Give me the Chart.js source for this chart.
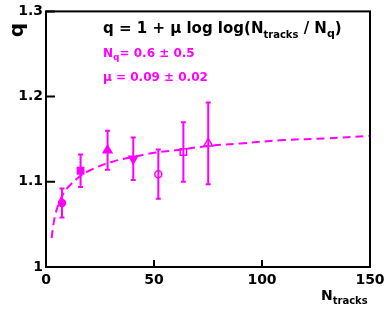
<!DOCTYPE html>
<html>
<head>
<meta charset="utf-8">
<script src="https://cdn.jsdelivr.net/npm/chart.js@4"></script>
<style>
  html, body { margin: 0; padding: 0; background: #fff; }
  #wrap { width: 390px; height: 310px; }
</style>
</head>
<body>
<div id="wrap"><canvas id="c" width="390" height="310"></canvas></div>
<script>
// measured points
const nTracks = [7.4, 16, 28.5, 40.4, 52, 63.6, 75.1];
const qValues = [1.075, 1.113, 1.137, 1.127, 1.109, 1.135, 1.145];
const qErrors = [0.017, 0.019, 0.023, 0.025, 0.029, 0.035, 0.048];

// fitted curve
const fitN = [2.6, 4, 6, 8, 10, 15, 20, 30, 40, 50, 60, 75, 90, 110, 130, 150];
const fitQ = [1.034, 1.058, 1.075, 1.086, 1.093, 1.105, 1.113, 1.123, 1.129, 1.134, 1.137, 1.142, 1.145, 1.149, 1.151, 1.154];

const xTicks = [0, 50, 100, 150];
const yTicks = [1, 1.1, 1.2, 1.3];

const MAG = '#ff00ff';
const FONT = '"DejaVu Sans", sans-serif';
const markers = ['circle', 'rect', 'triangle', 'triangle', 'circle', 'rect', 'triangle'];
const rotations = [0, 0, 0, 180, 0, 0, 0];
const radii = [3.5, 4.5, 5, 5, 3.5, 4.5, 5];
const filled = [true, true, true, true, false, false, false];

// error bars, inner ticks, frame and texts
const decor = {
  id: 'decor',
  beforeDatasetsDraw(chart) {
    const { ctx, scales: { x, y } } = chart;
    ctx.save();
    ctx.strokeStyle = MAG;
    ctx.lineWidth = 2;
    nTracks.forEach((n, i) => {
      const px = x.getPixelForValue(n);
      const top = y.getPixelForValue(qValues[i] + qErrors[i]);
      const bot = y.getPixelForValue(qValues[i] - qErrors[i]);
      ctx.beginPath();
      ctx.moveTo(px, top); ctx.lineTo(px, bot);
      ctx.moveTo(px - 2.5, top); ctx.lineTo(px + 2.5, top);
      ctx.moveTo(px - 2.5, bot); ctx.lineTo(px + 2.5, bot);
      ctx.stroke();
    });
    ctx.restore();
  },
  afterDraw(chart) {
    const { ctx, chartArea: a, scales: { x, y } } = chart;
    ctx.save();
    ctx.strokeStyle = '#000';
    ctx.lineWidth = 2;
    ctx.strokeRect(a.left, a.top, a.right - a.left, a.bottom - a.top);
    ctx.beginPath();
    yTicks.forEach(v => {
      const py = y.getPixelForValue(v);
      ctx.moveTo(a.left, py); ctx.lineTo(a.left + 9, py);
    });
    xTicks.forEach(v => {
      const px = x.getPixelForValue(v);
      ctx.moveTo(px, a.bottom); ctx.lineTo(px, a.bottom - 7);
    });
    ctx.stroke();

    const txt = (s, px, py, size, color) => {
      ctx.font = 'bold ' + size + 'px ' + FONT;
      ctx.fillStyle = color;
      ctx.fillText(s, px, py);
      return px + ctx.measureText(s).width;
    };
    ctx.textBaseline = 'alphabetic';
    // formula
    let cx = 103;
    cx = txt('q = 1 + \u03bc log log(N', cx, 33, 15, '#000');
    cx = txt('tracks', cx, 38, 10, '#000');
    cx = txt(' / N', cx, 33, 15, '#000');
    cx = txt('q', cx, 37, 11, '#000');
    txt(')', cx, 33, 15, '#000');

    cx = txt('N', 103, 57, 12, MAG);
    cx = txt('q', cx, 60, 9, MAG);
    txt('= 0.6 \u00b1 0.5', cx, 57, 12, MAG);
    txt('\u03bc = 0.09 \u00b1 0.02', 103, 81, 12, MAG);

    // axis titles
    cx = txt('N', 321, 300, 14, '#000');
    txt('tracks', cx, 304, 10, '#000');
    ctx.translate(23, 30);
    ctx.rotate(-Math.PI / 2);
    ctx.textAlign = 'center';
    txt('q', 0, 0, 20, '#000');
    ctx.restore();
  }
};

new Chart(document.getElementById('c'), {
  type: 'scatter',
  data: {
    datasets: [
      {
        data: nTracks.map((n, i) => ({ x: n, y: qValues[i] })),
        pointStyle: markers,
        rotation: rotations,
        pointRadius: radii,
        pointBorderWidth: 1.5,
        borderColor: MAG,
        backgroundColor: filled.map(f => f ? MAG : 'rgba(0,0,0,0)'),
        order: 0
      },
      {
        data: fitN.map((n, i) => ({ x: n, y: fitQ[i] })),
        showLine: true,
        borderColor: MAG,
        borderWidth: 2,
        borderDash: [8, 5],
        pointRadius: 0,
        tension: 0.4,
        fill: false,
        order: 1
      }
    ]
  },
  options: {
    responsive: false,
    animation: false,
    layout: { padding: { top: 10, right: 20, left: 0, bottom: 0 } },
    plugins: { legend: { display: false }, tooltip: { enabled: false } },
    scales: {
      x: {
        type: 'linear', min: 0, max: 150,
        afterBuildTicks: s => { s.ticks = xTicks.map(v => ({ value: v })); },
        afterFit: s => { s.height = 43; },
        grid: { display: false, drawTicks: false },
        border: { display: false },
        ticks: { color: '#000', padding: 5, maxRotation: 0, autoSkip: false,
                 font: { family: FONT, weight: 'bold', size: 14 } }
      },
      y: {
        type: 'linear', min: 1, max: 1.3,
        afterBuildTicks: s => { s.ticks = yTicks.map(v => ({ value: v })); },
        afterFit: s => { s.width = 46; },
        grid: { display: false, drawTicks: false },
        border: { display: false },
        ticks: { color: '#000', padding: 3, autoSkip: false,
                 callback: v => String(+v.toFixed(1)),
                 font: { family: FONT, weight: 'bold', size: 14 } }
      }
    }
  },
  plugins: [decor]
});
</script>
</body>
</html>
